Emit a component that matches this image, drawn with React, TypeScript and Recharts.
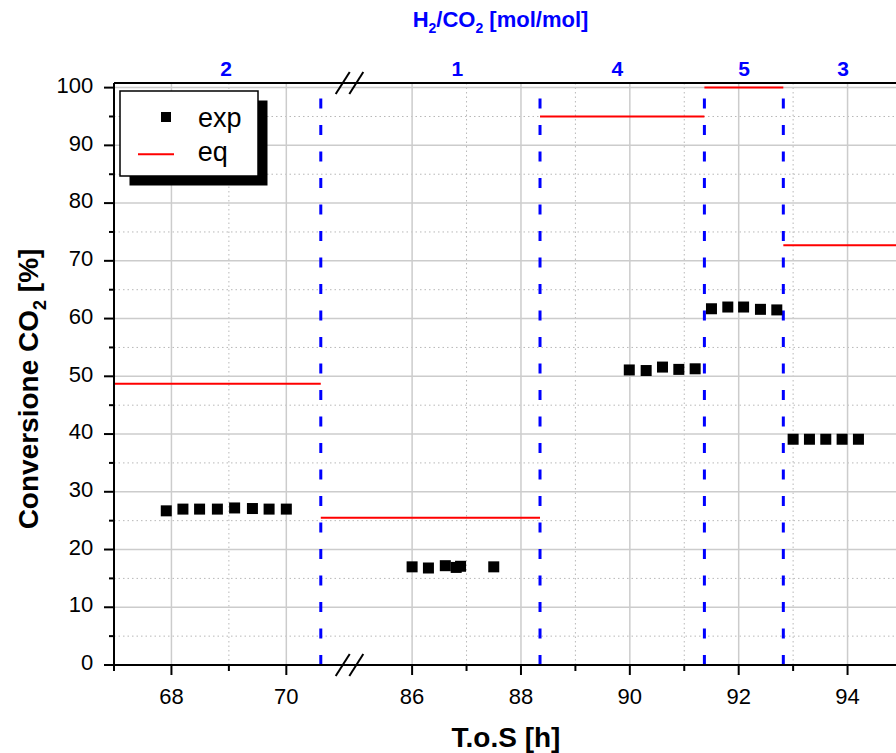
import React from "react";
import {
  ComposedChart,
  XAxis,
  YAxis,
  Line,
  Scatter,
  ReferenceLine,
  ReferenceDot,
  Legend,
} from "recharts";

// experimental points: time on stream [h] / CO2 conversion [%]
const expTime = [
  67.91, 68.2, 68.49, 68.8, 69.1, 69.41, 69.7, 70.0,
  86.0, 86.3, 86.61, 86.81, 86.89, 87.5,
  89.99, 90.3, 90.6, 90.9, 91.2,
  91.5, 91.8, 92.09, 92.4, 92.7,
  93.0, 93.3, 93.6, 93.9, 94.2,
];
const expConv = [
  26.7, 27.0, 27.0, 27.0, 27.2, 27.1, 27.0, 27.0,
  17.0, 16.8, 17.2, 16.9, 17.1, 17.0,
  51.1, 51.0, 51.6, 51.2, 51.3,
  61.7, 62.0, 62.0, 61.6, 61.5,
  39.1, 39.1, 39.1, 39.1, 39.1,
];

// equilibrium conversion for each H2/CO2 step
const eqStart = [67, 70.6, 88.35, 91.37, 92.82];
const eqEnd = [70.6, 88.35, 91.37, 92.82, 95.5];
const eqConv = [48.7, 25.5, 95.0, 100.0, 72.7];

// ratio changes and labels on top
const ratioChange = [70.6, 88.35, 91.37, 92.82];
const ratioLabelAt = [68.95, 86.83, 89.77, 92.1, 93.92];
const ratioLabel = ["2", "1", "4", "5", "3"];

const xMajor = [68, 70, 86, 88, 90, 92, 94];
const xMinor = [67, 69, 87, 89, 91, 93];
const yMajor = [0, 10, 20, 30, 40, 50, 60, 70, 80, 90, 100];
const yMinor = [5, 15, 25, 35, 45, 55, 65, 75, 85, 95];

// broken x axis
const BREAK_LO = 71.1;
const BREAK_HI = 84.85;
const RIGHT_SCALE = 0.9476;
const T_MIN = 67;
const T_MAX = 94.89;
const Y_MAX = 100.8;

const toX = (t: number) => (t <= BREAK_LO ? t : BREAK_LO + (t - BREAK_HI) * RIGHT_SCALE);
const fromX = (d: number) => (d <= BREAK_LO + 1e-6 ? d : BREAK_HI + (d - BREAK_LO) / RIGHT_SCALE);

const expData = expTime.map((t, i) => ({ x: toX(t), y: expConv[i] }));
const eqData = eqStart.flatMap((s, i) => [
  { x: toX(s), y: eqConv[i] },
  { x: toX(eqEnd[i]), y: eqConv[i] },
  { x: toX(eqEnd[i]), y: null },
]);

const FONT = "'Liberation Sans', Arial, sans-serif";
const BLUE = "#0000ff";
const X_TS = 10, X_TM = 14;
const Y_TS = 10, Y_TM = 10;

function XTick({ x, y, payload }: any) {
  const t = Math.round(fromX(payload.value) * 100) / 100;
  const major = xMajor.includes(t);
  const y0 = y - X_TS - X_TM;
  return (
    <g>
      <line x1={x} x2={x} y1={y0} y2={y0 + (major ? 10 : 6)} stroke="#000" strokeWidth={2} />
      {major && (
        <text x={x} y={y0 + 39.4} textAnchor="middle" fontSize={22} fill="#000" fontFamily={FONT}>
          {t}
        </text>
      )}
    </g>
  );
}

function YTick({ x, y, payload }: any) {
  const v = payload.value;
  const major = v % 10 === 0;
  const x0 = x + Y_TS + Y_TM;
  return (
    <g>
      <line x1={x0 - (major ? 10 : 5)} x2={x0} y1={y} y2={y} stroke="#000" strokeWidth={2} />
      {major && (
        <text x={x0 - 20.7} y={y + 5.2} textAnchor="end" fontSize={22} fill="#000" fontFamily={FONT}>
          {v}
        </text>
      )}
    </g>
  );
}

function RatioText({ cx, cy, text }: any) {
  return (
    <text
      x={cx}
      y={cy - 7}
      textAnchor="middle"
      fill={BLUE}
      style={{ fontSize: 21, fontWeight: "bold", fontFamily: FONT }}
    >
      {text}
    </text>
  );
}

function Square({ cx, cy }: any) {
  return <rect x={cx - 5.5} y={cy - 5.5} width={11} height={11} fill="#000" />;
}

function BreakMark({ cx, cy }: any) {
  return (
    <g>
      <line x1={cx - 13.8} y1={cy + 11} x2={cx + 0.2} y2={cy - 11} stroke="#000" strokeWidth={2} />
      <line x1={cx - 0.2} y1={cy + 11} x2={cx + 13.8} y2={cy - 11} stroke="#000" strokeWidth={2} />
    </g>
  );
}

function LegendBox() {
  return (
    <svg width={160} height={106} style={{ display: "block" }}>
      <rect x={14.5} y={14.5} width={138} height={85} fill="#000" />
      <rect x={5} y={5} width={138} height={85} fill="#fff" stroke="#000" strokeWidth={1.5} />
      <rect x={46} y={26} width={10} height={10} fill="#000" />
      <text x={83} y={40.7} fontSize={27} fontFamily={FONT} fill="#000">exp</text>
      <line x1={23} x2={59} y1={68.3} y2={68.3} stroke="#ff0000" strokeWidth={2} />
      <text x={82.7} y={75} fontSize={27} fontFamily={FONT} fill="#000">eq</text>
    </svg>
  );
}

export default function App() {
  const xDomain = [toX(T_MIN), toX(T_MAX)];
  return (
    <div style={{ position: "absolute", left: 0, top: 0, width: 896, height: 753, fontFamily: FONT, background: "#fff" }}>
      <ComposedChart width={896} height={753} margin={{ top: 83, right: 0, bottom: 48, left: 54 }}>
        <XAxis
          dataKey="x"
          type="number"
          domain={xDomain}
          allowDataOverflow
          ticks={[...xMinor, ...xMajor].map(toX)}
          interval={0}
          tick={<XTick />}
          tickLine={false}
          tickSize={X_TS}
          tickMargin={X_TM}
          height={40}
          axisLine={{ stroke: "#000", strokeWidth: 2 }}
        />
        <YAxis
          dataKey="y"
          type="number"
          domain={[0, Y_MAX]}
          allowDataOverflow
          ticks={[...yMinor, ...yMajor]}
          interval={0}
          tick={<YTick />}
          tickLine={false}
          tickSize={Y_TS}
          tickMargin={Y_TM}
          width={60}
          axisLine={{ stroke: "#000", strokeWidth: 2 }}
        />

        {xMinor.map((t) => (
          <ReferenceLine key={"xm" + t} x={toX(t)} stroke="#b8b8b8" strokeWidth={1} strokeDasharray="1.5 3" />
        ))}
        {yMinor.map((v) => (
          <ReferenceLine key={"ym" + v} y={v} stroke="#b8b8b8" strokeWidth={1} strokeDasharray="1.5 3" />
        ))}
        {xMajor.map((t) => (
          <ReferenceLine key={"xM" + t} x={toX(t)} stroke="#cccccc" strokeWidth={1.5} />
        ))}
        {yMajor.filter((v) => v > 0).map((v) => (
          <ReferenceLine key={"yM" + v} y={v} stroke="#cccccc" strokeWidth={1.5} />
        ))}

        {ratioChange.map((t) => (
          <ReferenceLine key={"r" + t} x={toX(t)} stroke={BLUE} strokeWidth={3} strokeDasharray="10 16.5" />
        ))}

        <Line
          data={eqData}
          dataKey="y"
          stroke="#ff0000"
          strokeWidth={2}
          dot={false}
          activeDot={false}
          connectNulls={false}
          isAnimationActive={false}
          name="eq"
        />
        <Scatter data={expData} dataKey="y" shape={<Square />} isAnimationActive={false} name="exp" />

        {/* top frame line */}
        <ReferenceLine y={Y_MAX} stroke="#000" strokeWidth={2} ifOverflow="visible" />

        {ratioLabelAt.map((t, i) => (
          <ReferenceDot
            key={"lbl" + i}
            x={toX(t)}
            y={Y_MAX}
            ifOverflow="visible"
            shape={<RatioText text={ratioLabel[i]} />}
          />
        ))}

        <ReferenceDot x={BREAK_LO} y={0} ifOverflow="visible" shape={<BreakMark />} />
        <ReferenceDot x={BREAK_LO} y={Y_MAX} ifOverflow="visible" shape={<BreakMark />} />

        <Legend
          layout="vertical"
          align="center"
          verticalAlign="middle"
          wrapperStyle={{ left: 115, top: 86, width: 160, height: 106 }}
          content={() => <LegendBox />}
        />
      </ComposedChart>

      <svg
        width={896}
        height={753}
        style={{ position: "absolute", left: 0, top: 0, pointerEvents: "none" }}
        fontFamily={FONT}
      >
        <text x={500.5} y={26.7} textAnchor="middle" fontSize={22} fontWeight="bold" fill={BLUE}>
          H<tspan dy={6} fontSize={14}>2</tspan>
          <tspan dy={-6}>/CO</tspan>
          <tspan dy={6} fontSize={14}>2</tspan>
          <tspan dy={-6}> [mol/mol]</tspan>
        </text>
        <text x={506} y={747} textAnchor="middle" fontSize={28} fontWeight="bold" fill="#000">
          T.o.S [h]
        </text>
        <text
          transform="translate(38, 389) rotate(-90)"
          textAnchor="middle"
          fontSize={28}
          fontWeight="bold"
          fill="#000"
        >
          Conversione CO<tspan dy={8} fontSize={18}>2</tspan>
          <tspan dy={-8}> [%]</tspan>
        </text>
      </svg>
    </div>
  );
}
